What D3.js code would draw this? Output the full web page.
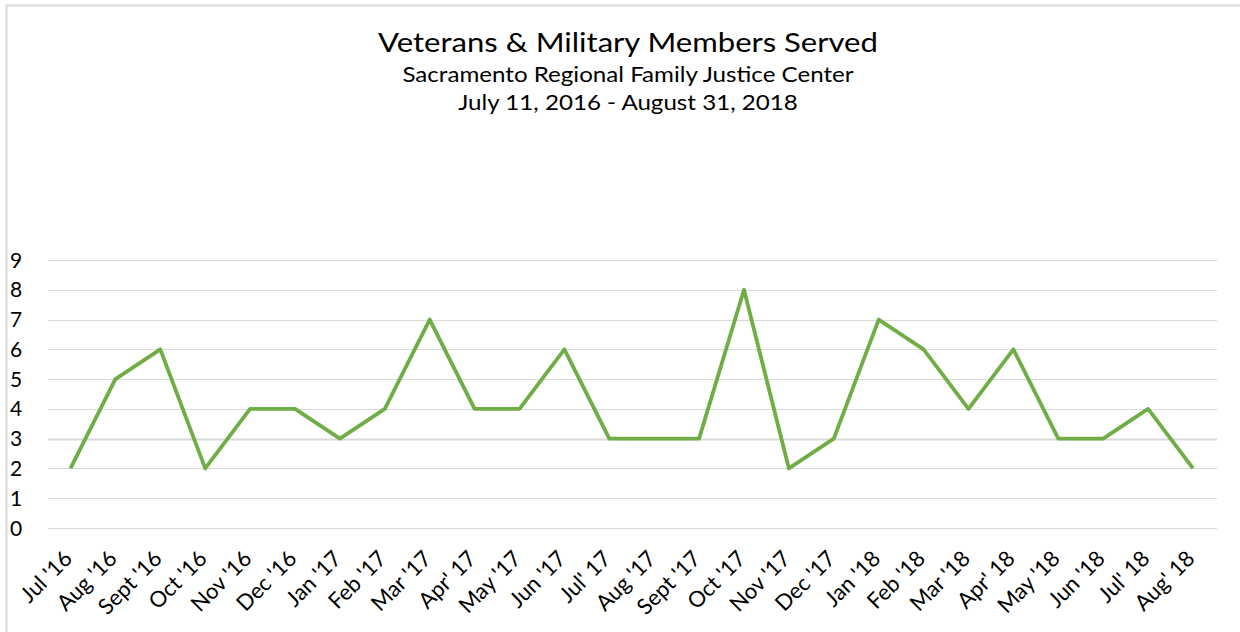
<!DOCTYPE html>
<html>
<head>
<meta charset="utf-8">
<script src="https://cdn.jsdelivr.net/npm/d3@7"></script>
<style>
  body { margin: 0; background: #fff; }
  svg { font-family: Lato, "Open Sans", sans-serif; }
</style>
</head>
<body>
<svg width="1240" height="632"></svg>
<script>
var width = 1240,
    height = 632;

var months = ["Jul '16", "Aug '16", "Sept '16", "Oct '16", "Nov '16", "Dec '16",
              "Jan '17", "Feb '17", "Mar '17", "Apr' 17", "May '17", "Jun '17",
              "Jul' 17", "Aug '17", "Sept '17", "Oct '17", "Nov '17", "Dec '17",
              "Jan '18", "Feb '18", "Mar '18", "Apr' 18", "May '18", "Jun '18",
              "Jul' 18", "Aug' 18"];
var served = [2, 5, 6, 2, 4, 4, 3, 4, 7, 4, 4, 6, 3, 3, 3, 8, 2, 3, 7, 6, 4, 6, 3, 3, 4, 2];
var yTicks = [0, 1, 2, 3, 4, 5, 6, 7, 8, 9];
var titleLines = ["Veterans & Military Members Served",
                  "Sacramento Regional Family Justice Center",
                  "July 11, 2016 - August 31, 2018"];

var svg = d3.select("svg");

// outer chart border (only top and left show in the crop)
svg.append("path")
   .attr("d", "M6.5,632 V5.5 H1240")
   .attr("fill", "none")
   .attr("stroke", "#d9d9d9")
   .attr("stroke-width", 2);

var x = d3.scalePoint()
          .domain(months)
          .range([70.5, 1193])  // band centres
          .padding(0);

var y = d3.scaleLinear()
          .domain([0, 9])
          .range([528, 260]);

// gridlines
svg.append("g")
   .selectAll("line")
   .data(yTicks)
   .enter().append("line")
   .attr("x1", 48)
   .attr("x2", 1217)
   .attr("y1", function(d) { return Math.round(y(d)) + 0.5; })
   .attr("y2", function(d) { return Math.round(y(d)) + 0.5; })
   .attr("stroke", "#d9d9d9")
   .attr("stroke-width", function(d) { return d == 3 ? 2 : 1; });

// y labels
svg.append("g")
   .selectAll("text")
   .data(yTicks)
   .enter().append("text")
   .attr("x", 10)
   .attr("y", function(d) { return y(d) + 7.5; })
   .attr("font-size", 21)
   .attr("fill", "#000")
   .text(function(d) { return d; });

// x labels, rotated
svg.append("g")
   .selectAll("text")
   .data(months)
   .enter().append("text")
   .attr("transform", function(d) { return "translate(" + (x(d) + 3) + ",560) rotate(-45)"; })
   .attr("text-anchor", "end")
   .attr("font-size", 22)
   .attr("fill", "#000")
   .text(function(d) { return d; });

// the line
var line = d3.line()
             .x(function(d, i) { return x(months[i]); })
             .y(function(d) { return y(d); });

svg.append("path")
   .datum(served)
   .attr("d", line)
   .attr("fill", "none")
   .attr("stroke", "#70ad47")
   .attr("stroke-width", 3.8)
   .attr("stroke-linejoin", "round");

// titles, a bit stretched sideways like the source
svg.append("g")
   .selectAll("text")
   .data(titleLines)
   .enter().append("text")
   .attr("transform", function(d, i) { return "translate(628," + [52, 82, 110][i] + ") scale(1.15,1)"; })
   .attr("text-anchor", "middle")
   .attr("font-size", function(d, i) { return i == 0 ? 27 : 21; })
   .attr("fill", "#000")
   .text(function(d) { return d; });
</script>
</body>
</html>
